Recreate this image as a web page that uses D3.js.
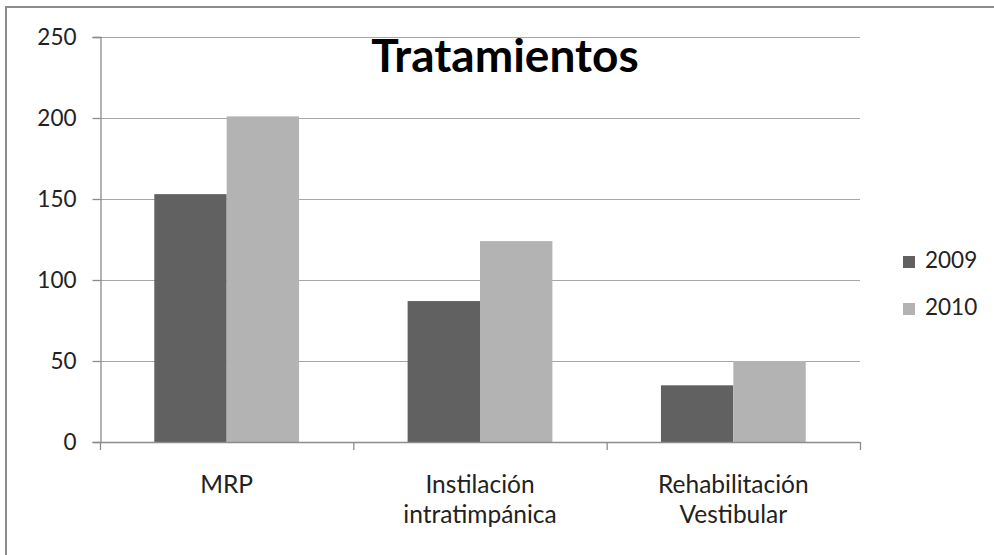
<!DOCTYPE html>
<html><head><meta charset="utf-8">
<script src="https://cdn.jsdelivr.net/npm/d3@7"></script>
<style>body{margin:0;background:#fff}svg{display:block}text{font-family:Lato,"Open Sans",sans-serif}</style>
</head><body><svg id="c" width="994" height="555"></svg>
<script>
const categories = [["MRP"], ["Instilación","intratimpánica"], ["Rehabilitación","Vestibular"]];
const seriesNames = ["2009", "2010"];
const values2009 = [153, 87, 35];
const values2010 = [201, 124, 50];
const yTicks = [0, 50, 100, 150, 200, 250];
const colors = ["#616161", "#b3b3b3"];

const svg = d3.select("#c");
svg.append("rect").attr("width",994).attr("height",555).attr("fill","#fff");
svg.append("line").attr("x1",6).attr("x2",6).attr("y1",6).attr("y2",555).attr("stroke","#8c8c8c").attr("stroke-width",2);
svg.append("line").attr("x1",5).attr("x2",994).attr("y1",7).attr("y2",7).attr("stroke","#8c8c8c").attr("stroke-width",2);

const L=100,R=860,T=37,B=442;
const y = d3.scaleLinear().domain([0,250]).range([B,T]);
const x0 = d3.scaleBand().domain(d3.range(categories.length)).range([L,R]).paddingInner(1.5/3.5).paddingOuter(0.75/3.5);
const x1 = d3.scaleBand().domain([0,1]).range([0,x0.bandwidth()]);

svg.append("g").selectAll("line").data(yTicks.filter(d=>d>0)).join("line")
  .attr("x1",L).attr("x2",R).attr("y1",d=>Math.round(y(d))+0.5).attr("y2",d=>Math.round(y(d))+0.5)
  .attr("stroke","#a6a6a6").attr("stroke-width",1.2);

const ya = svg.append("g").attr("transform",`translate(${L+0.5},0)`).call(d3.axisLeft(y).tickValues(yTicks).tickSize(8).tickPadding(16));
ya.select(".domain").attr("stroke","#8c8c8c").attr("stroke-width",1.3);
ya.selectAll(".tick line").attr("stroke","#8c8c8c").attr("stroke-width",1.3);
ya.selectAll("text").attr("font-size",22.5).attr("fill","#222").style("font-family","Lato");

const data = categories.map((c,i)=>[values2009[i], values2010[i]]);
const g = svg.append("g");
g.selectAll("g").data(data).join("g").attr("transform",(d,i)=>`translate(${x0(i)},0)`)
  .selectAll("rect").data(d=>d).join("rect")
  .attr("x",(d,j)=>x1(j)).attr("width",x1.bandwidth())
  .attr("y",d=>y(d)).attr("height",d=>B-y(d)).attr("fill",(d,j)=>colors[j]);

svg.append("line").attr("x1",L).attr("x2",R).attr("y1",B+0.5).attr("y2",B+0.5).attr("stroke","#8c8c8c").attr("stroke-width",1.3);
const bounds = d3.range(categories.length+1).map(i=> L + i*(R-L)/categories.length);
svg.append("g").selectAll("line").data(bounds).join("line")
  .attr("x1",d=>d+0.5).attr("x2",d=>d+0.5).attr("y1",B).attr("y2",B+8).attr("stroke","#8c8c8c").attr("stroke-width",1.3);

const xl = svg.append("g").selectAll("text").data(categories).join("text")
  .attr("x",(d,i)=>x0(i)+x0.bandwidth()/2).attr("y",493).attr("text-anchor","middle")
  .attr("font-size",24.5).attr("fill","#222");
xl.selectAll("tspan").data(d=>d).join("tspan").attr("x",function(){return this.parentNode.getAttribute("x");})
  .attr("dy",(d,i)=>i?30:0).text(d=>d);

svg.append("text").attr("x",505).attr("y",72).attr("text-anchor","middle").attr("font-size",46)
  .attr("font-weight","bold").attr("fill","#000").text("Tratamientos");

const lg = svg.append("g").selectAll("g").data(seriesNames).join("g")
  .attr("transform",(d,i)=>`translate(903,${256+i*47})`);
lg.append("rect").attr("width",12).attr("height",12).attr("fill",(d,i)=>colors[i]);
lg.append("text").attr("x",22).attr("y",12).attr("font-size",22.5).attr("fill","#222").text(d=>d);
</script></body></html>
